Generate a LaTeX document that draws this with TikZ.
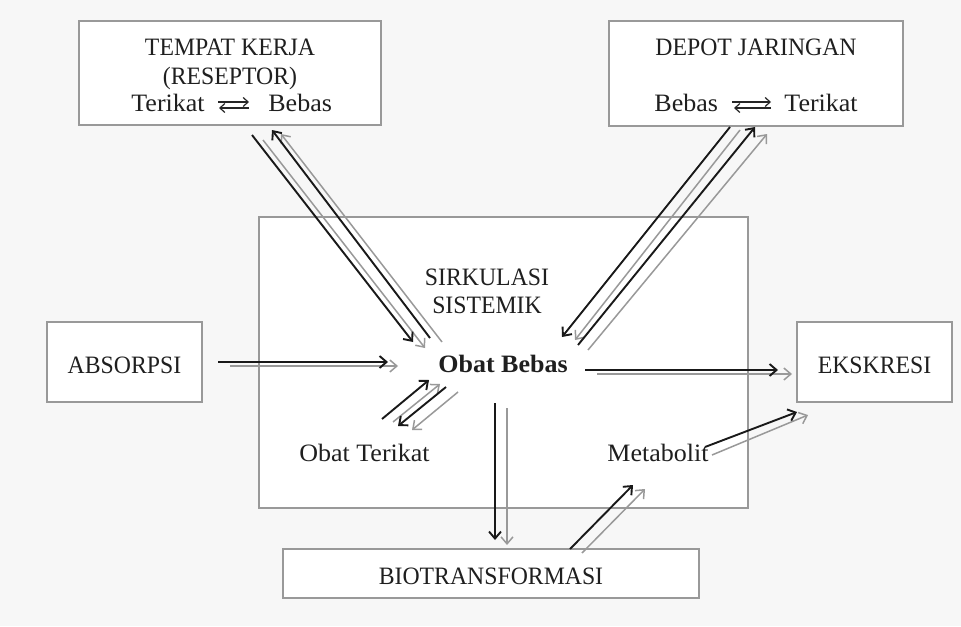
\documentclass[tikz,border=0pt]{standalone}
\usepackage{fontspec}
\setmainfont{Liberation Serif}
\newfontfamily\capfont[FakeStretch=0.95]{Liberation Serif}
\newfontfamily\widefont[FakeStretch=1.04]{Liberation Serif}
\usetikzlibrary{arrows.meta}
\begin{document}
\begin{tikzpicture}[x=0.5pt,y=-0.5pt,
  box/.style={draw=black!40, line width=0.9pt, fill=white, inner sep=0pt},
  lbl/.style={font=\capfont\fontsize{12.5}{14}\selectfont, text=black!88, inner sep=0pt, anchor=base},
  wlbl/.style={font=\widefont\fontsize{12.5}{14}\selectfont, text=black!88, inner sep=0pt, anchor=base},
  eqarr/.style={draw=black!85, line width=0.6pt, -{Straight Barb[length=2.5pt,width=4.5pt]}},
  blk/.style={draw=black!90, line width=0.95pt, -{Straight Barb[length=3.5pt,width=6pt]}},
  shd/.style={draw=black!40, line width=0.75pt, -{Straight Barb[length=3.5pt,width=6pt]}}]
\fill[black!3] (0,0) rectangle (961,626);
\useasboundingbox (0,0) rectangle (961,626);

% boxes
\node[box, minimum width=244.5pt, minimum height=145.5pt] (sk) at (503.5,362.5) {};
\node[box, minimum width=151pt, minimum height=52pt] (tk) at (230,73) {};
\node[box, minimum width=147pt, minimum height=52.5pt] (dj) at (756,73.5) {};
\node[box, minimum width=77.5pt, minimum height=40pt] (ab) at (124.5,362) {};
\node[box, minimum width=77.5pt, minimum height=40pt] (ek) at (874.5,362) {};
\node[box, minimum width=208pt, minimum height=24.5pt] (bt) at (491,573.5) {};

% texts
\node[lbl] (tk1) at (230,55) {TEMPAT KERJA};
\node[lbl] (tk2) at (230,84) {(RESEPTOR)};
\node[wlbl, anchor=base west] (tk3) at (131,112) {Terikat};
\node[wlbl, anchor=base west] (tk5) at (268,112) {Bebas};

\node[lbl] (dj1) at (756,55) {DEPOT JARINGAN};
\node[wlbl, anchor=base west] (dj2) at (654,112) {Bebas};
\node[wlbl, anchor=base west] (dj4) at (784,112) {Terikat};

\node[lbl] (sk1) at (487,285) {SIRKULASI};
\node[lbl] (sk2) at (487,313) {SISTEMIK};
\node[wlbl, font=\widefont\bfseries\fontsize{12.5}{14}\selectfont] (ob) at (503,372) {Obat Bebas};
\node[wlbl] (ot) at (364.5,461) {Obat Terikat};
\node[wlbl] (mb) at (658,461) {Metabolit};
\node[lbl] (ab1) at (124.5,373) {ABSORPSI};
\node[lbl] (ek1) at (874.5,373) {EKSKRESI};
\node[lbl] (bt1) at (491,584) {BIOTRANSFORMASI};

% equilibrium symbols
\coordinate (e1a) at (218,102); \coordinate (e1b) at (249,102);
\coordinate (e1c) at (249,108); \coordinate (e1d) at (219,108);
\coordinate (e2a) at (732,102); \coordinate (e2b) at (771,102);
\coordinate (e2c) at (771,108); \coordinate (e2d) at (734,108);
\draw[eqarr] (e1a) -- (e1b);
\draw[eqarr] (e1c) -- (e1d);
\draw[eqarr] (e2a) -- (e2b);
\draw[eqarr] (e2c) -- (e2d);

% arrow end points
\coordinate (tdA) at (252,135); \coordinate (tdB) at (413,342);
\coordinate (tdC) at (263,140); \coordinate (tdD) at (425,348);
\coordinate (tuA) at (430,338); \coordinate (tuB) at (272,130);
\coordinate (tuC) at (442,342); \coordinate (tuD) at (281,134);
\coordinate (ddA) at (730,127); \coordinate (ddB) at (562,337);
\coordinate (ddC) at (740,130); \coordinate (ddD) at (575,340);
\coordinate (duA) at (578,345); \coordinate (duB) at (755,127);
\coordinate (duC) at (588,350); \coordinate (duD) at (767,134);
\coordinate (abA) at (218,362); \coordinate (abB) at (388,362);
\coordinate (abC) at (230,366); \coordinate (abD) at (398,366);
\coordinate (ekA) at (585,370); \coordinate (ekB) at (778,370);
\coordinate (ekC) at (597,374); \coordinate (ekD) at (792,374);
\coordinate (btA) at (495,403); \coordinate (btB) at (495,540);
\coordinate (btC) at (507,408); \coordinate (btD) at (507,545);
\coordinate (bmA) at (570,549); \coordinate (bmB) at (633,485);
\coordinate (bmC) at (582,553); \coordinate (bmD) at (645,489);
\coordinate (meA) at (705,447); \coordinate (meB) at (797,412);
\coordinate (meC) at (712,455); \coordinate (meD) at (808,415);
\coordinate (tbA) at (382,419); \coordinate (tbB) at (429,380);
\coordinate (tbC) at (393,422); \coordinate (tbD) at (440,384);
\coordinate (btrA) at (446,387); \coordinate (btrB) at (398,426);
\coordinate (btrC) at (458,392); \coordinate (btrD) at (412,430);

% shadows
\draw[shd] (tdC) -- (tdD);
\draw[shd] (tuC) -- (tuD);
\draw[shd] (ddC) -- (ddD);
\draw[shd] (duC) -- (duD);
\draw[shd] (abC) -- (abD);
\draw[shd] (ekC) -- (ekD);
\draw[shd] (btC) -- (btD);
\draw[shd] (bmC) -- (bmD);
\draw[shd] (meC) -- (meD);
\draw[shd] (tbC) -- (tbD);
\draw[shd] (btrC) -- (btrD);
% black arrows
\draw[blk] (tdA) -- (tdB);
\draw[blk] (tuA) -- (tuB);
\draw[blk] (ddA) -- (ddB);
\draw[blk] (duA) -- (duB);
\draw[blk] (abA) -- (abB);
\draw[blk] (ekA) -- (ekB);
\draw[blk] (btA) -- (btB);
\draw[blk] (bmA) -- (bmB);
\draw[blk] (meA) -- (meB);
\draw[blk] (tbA) -- (tbB);
\draw[blk] (btrA) -- (btrB);
\end{tikzpicture}
\end{document}
